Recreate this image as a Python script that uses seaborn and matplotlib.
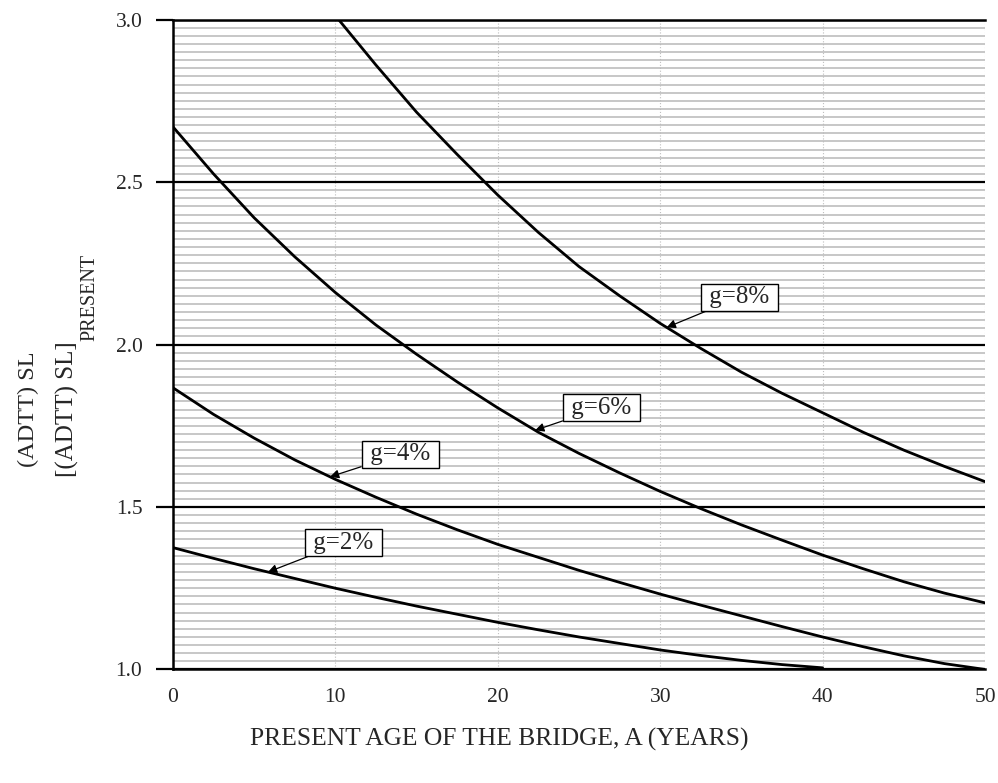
import numpy as np
import pandas as pd
import matplotlib
matplotlib.use("Agg")
import matplotlib.pyplot as plt
from matplotlib.ticker import MultipleLocator
import seaborn as sns

# ---- data ----
age_8 = [10.2, 12.5, 15, 17.5, 20, 22.5, 25, 27.5, 30, 32.5, 35, 37.5, 40, 42.5, 45, 47.5, 50]
val_8 = [3.00, 2.86, 2.715, 2.585, 2.46, 2.345, 2.24, 2.15, 2.065, 1.988, 1.915, 1.85,
         1.79, 1.73, 1.675, 1.625, 1.578]

age_6 = [0, 2.5, 5, 7.5, 10, 12.5, 15, 17.5, 20, 22.5, 25, 27.5, 30, 32.5, 35, 37.5, 40,
         42.5, 45, 47.5, 50]
val_6 = [2.67, 2.525, 2.39, 2.27, 2.16, 2.06, 1.97, 1.885, 1.805, 1.73, 1.665, 1.605,
         1.548, 1.495, 1.445, 1.398, 1.352, 1.31, 1.27, 1.235, 1.205]

age_4 = [0, 2.5, 5, 7.5, 10, 12.5, 15, 17.5, 20, 22.5, 25, 27.5, 30, 32.5, 35, 37.5, 40,
         42.5, 45, 47.5, 50]
val_4 = [1.867, 1.785, 1.712, 1.645, 1.585, 1.53, 1.478, 1.43, 1.385, 1.345, 1.305, 1.268,
         1.232, 1.198, 1.165, 1.132, 1.10, 1.07, 1.042, 1.018, 1.00]

age_2 = [0, 2.5, 5, 7.5, 10, 12.5, 15, 17.5, 20, 22.5, 25, 27.5, 30, 32.5, 35, 37.5, 40]
val_2 = [1.375, 1.342, 1.31, 1.28, 1.25, 1.222, 1.195, 1.17, 1.145, 1.122, 1.10, 1.08,
         1.06, 1.043, 1.028, 1.015, 1.005]

labels = ["g=2%", "g=4%", "g=6%", "g=8%"]
label_text_pos = [(10.5, 1.39), (14.0, 1.663), (26.4, 1.806), (34.88, 2.145)]
label_arrow_age = [5.85, 9.67, 22.3, 30.4]

x_ticks = [0, 10, 20, 30, 40, 50]
y_ticks = [1.0, 1.5, 2.0, 2.5, 3.0]

series = [(labels[0], age_2, val_2), (labels[1], age_4, val_4),
          (labels[2], age_6, val_6), (labels[3], age_8, val_8)]
frames = [pd.DataFrame({"A": a, "ratio": v, "g": name}) for name, a, v in series]
df = pd.concat(frames, ignore_index=True)

sns.set_theme(style="white")
plt.rcParams["font.family"] = ["Liberation Serif", "DejaVu Serif"]

fig = plt.figure(figsize=(9.98, 7.83), dpi=100)
ax = fig.add_axes([0.1733, 0.145, 0.8137, 0.830])

# scanned-look background lines
ax.yaxis.set_minor_locator(MultipleLocator(0.025))
ax.grid(which="minor", axis="y", color="0.72", lw=1.1, zorder=0)
ax.grid(which="major", axis="y", color="black", lw=1.6, zorder=1)
ax.grid(which="major", axis="x", color="0.75", lw=0.8, ls=":", zorder=1)

sns.lineplot(data=df, x="A", y="ratio", hue="g", palette=["black"] * 4,
             legend=False, lw=2.0, ax=ax, zorder=3, sort=True)

ax.set_xlim(0, 50)
ax.set_ylim(1.0, 3.0)
ax.set_xticks(x_ticks)
ax.set_yticks(y_ticks)
ax.set_xticklabels([str(t) for t in x_ticks])
ax.set_yticklabels([f"{t:.1f}" for t in y_ticks])
ax.tick_params(axis="y", which="major", length=12, width=1.6, color="black",
               direction="out", left=True, labelsize=15.5, pad=10)
ax.tick_params(axis="y", which="minor", length=0)
ax.tick_params(axis="x", which="major", length=0, labelsize=15.5, pad=13)
ax.set_xlabel("")
ax.set_ylabel("")
ax.spines["right"].set_visible(False)
for side in ["left", "bottom", "top"]:
    ax.spines[side].set_color("black")
    ax.spines[side].set_linewidth(1.8)
ax.set_facecolor("white")

# labels with arrows
all_ages = {labels[0]: age_2, labels[1]: age_4, labels[2]: age_6, labels[3]: age_8}
all_vals = {labels[0]: val_2, labels[1]: val_4, labels[2]: val_6, labels[3]: val_8}
for name, (tx, ty), aa in zip(labels, label_text_pos, label_arrow_age):
    ay = float(np.interp(aa, all_ages[name], all_vals[name]))
    ax.annotate(" " + name + " ", xy=(aa, ay), xytext=(tx, ty), textcoords="data",
                ha="center", va="center", fontsize=18, zorder=5,
                bbox=dict(boxstyle="square,pad=0.1", fc="white", ec="black", lw=1.0),
                arrowprops=dict(arrowstyle="-|>", color="black", lw=0.9,
                                mutation_scale=13, shrinkA=0, shrinkB=0))

fig.text(0.5, 0.055, "PRESENT AGE OF THE BRIDGE, A (YEARS)", ha="center",
         va="center", fontsize=18.4)
fig.text(0.0285, 0.4036, "(ADTT) SL", rotation=90, ha="center", va="bottom", fontsize=17.5)
fig.text(0.0676, 0.391, "[(ADTT) SL]", rotation=90, ha="center", va="bottom", fontsize=18)
fig.text(0.090, 0.565, "PRESENT", rotation=90, ha="center", va="bottom", fontsize=14.5)

fig.savefig("out.png", dpi=100, facecolor="white")
